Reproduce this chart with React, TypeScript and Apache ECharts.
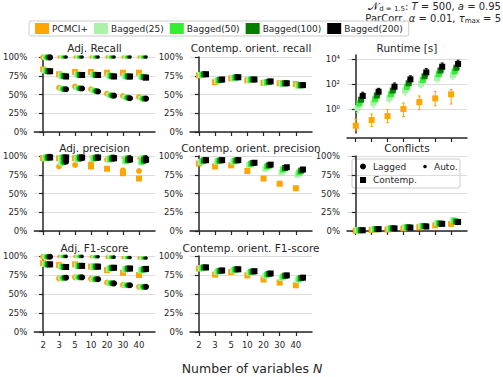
import React, { useEffect, useRef } from 'react';
import * as echarts from 'echarts';

// ---------- data ----------
const nLabels = ['2', '3', '5', '10', '20', '30', '40'];
const methods = ['PCMCI+', 'Bagged(25)', 'Bagged(50)', 'Bagged(100)', 'Bagged(200)'];
const colors = ['#ffa500', '#aaf2aa', '#33ee33', '#007f00', '#000000'];
const offsets = [0, 0.11, 0.22, 0.33, 0.44];
const runtimeTicks = [1, 100, 10000];

// Adj. Recall
const adjRecallLagged = [
  [99.5, 59, 60.5, 57, 51, 48, 46.5],
  [99.5, 58, 59, 55.5, 49.5, 46.5, 45],
  [99.5, 57.5, 58.5, 55, 49, 46, 44.5],
  [99.5, 57, 58, 54.5, 48.5, 45.5, 44.5],
  [99.5, 57, 58, 54, 48.5, 45, 44.5],
];
const adjRecallAuto = [
  [100, 100, 100, 100, 100, 100, 100],
  [100, 100, 100, 100, 100, 100, 100],
  [100, 100, 100, 100, 100, 100, 100],
  [100, 100, 100, 100, 100, 100, 100],
  [100, 100, 100, 100, 100, 100, 100],
];
const adjRecallContemp = [
  [83.5, 77, 80, 80, 79, 79, 79],
  [82, 75.5, 77, 77, 75.5, 75, 74],
  [81.5, 75, 76.5, 76.5, 75, 74.5, 73.5],
  [81, 74.5, 76, 76, 74.5, 74, 73],
  [81, 74, 76, 76, 74, 74, 72.5],
];
// Contemp. orient. recall
const orientRecallContemp = [
  [75.5, 66.5, 71.5, 69, 65.5, 65, 64],
  [76, 68, 72, 69.5, 66, 64.5, 62],
  [76.5, 69, 72.5, 70, 66.5, 64.5, 62],
  [77, 69.5, 73, 70, 67, 65, 62.5],
  [77, 70, 73, 70, 67.5, 65, 62.5],
];
// Runtime [s]
const runtimeMean = [
  [0.046, 0.13, 0.27, 1.0, 3.6, 7, 15],
  [1.2, 3, 7.5, 29, 105, 300, 500],
  [2.7, 6, 15, 58, 210, 600, 1000],
  [5.5, 12, 30, 115, 420, 1200, 2000],
  [11, 24, 60, 235, 850, 2400, 4000],
];
const runtimeLow = [
  [0.02, 0.04, 0.08, 0.25, 0.9, 1.8, 2.5],
  [0.5, 1.3, 3.5, 13, 50, 140, 220],
  [1.2, 3, 7, 28, 100, 280, 450],
  [2.5, 6, 15, 55, 200, 550, 900],
  [5, 12, 30, 110, 400, 1100, 1800],
];
const runtimeHigh = [
  [0.16, 0.4, 0.9, 3, 11, 25, 37],
  [2.6, 6, 15, 58, 210, 600, 1000],
  [5.5, 12, 30, 115, 420, 1200, 2000],
  [11, 24, 60, 230, 850, 2400, 4000],
  [22, 45, 120, 450, 1700, 4800, 8000],
];
// Adj. precision
const adjPrecLagged = [
  [98, 86, 88, 90, 95, 81, 80],
  [98, 90, 95, 96, 95, 93, 91],
  [98.5, 91, 96, 97, 96, 94, 92],
  [99, 92, 96.5, 97.5, 96.5, 94.5, 93.5],
  [99, 92.5, 97, 98, 97, 95, 94.5],
];
const adjPrecAuto = [
  [99, 99, 99, 98.5, 97.5, 97, 96.5],
  [99.5, 99.5, 99.5, 99.5, 99.5, 99, 99],
  [99.5, 99.5, 99.5, 99.5, 99.5, 99, 99],
  [99.5, 99.5, 99.5, 99.5, 99.5, 99, 99],
  [99.5, 99.5, 99.5, 99.5, 99.5, 99, 99],
];
const adjPrecContemp = [
  [97, 97, 97, 86, 83, 77, 70],
  [97, 97, 97, 96, 95, 93, 92],
  [97.5, 97.5, 97.5, 97, 96, 94, 93],
  [98, 98, 98, 97.5, 96.5, 95, 94.5],
  [98, 98, 98, 98, 97, 95.5, 95],
];
// Contemp. orient. precision
const orientPrecContemp = [
  [90, 86, 87.5, 80, 70, 63, 57],
  [92, 92.5, 92.5, 88, 83, 78, 75],
  [93, 93.5, 93.5, 89.5, 86, 82, 78],
  [94, 94, 94, 90.5, 87.5, 84, 80.5],
  [94.5, 94.5, 94.5, 91, 88.5, 85, 82],
];
// Conflicts
const conflictsContemp = [
  [0.5, 1.5, 2, 3.5, 5, 7.5, 9.5],
  [1, 2.5, 3.5, 5, 6.5, 10.5, 14.5],
  [1, 2.5, 3.5, 5, 6.5, 10, 13.5],
  [1, 2.5, 3.5, 5, 6.5, 10, 12.5],
  [1, 2.5, 3.5, 4.5, 6, 9.5, 12],
];
// Adj. F1-score
const adjF1Lagged = [
  [99, 70.5, 72, 70, 65, 62, 59.5],
  [99, 71, 72, 69.5, 64.5, 61.5, 59.5],
  [99, 71, 72, 69.5, 64.5, 61.5, 59.5],
  [99, 71.5, 72, 69.5, 64, 61.5, 59.5],
  [99, 71.5, 72, 69.5, 64, 61.5, 59.5],
];
const adjF1Auto = [
  [99.5, 99.5, 99.5, 99, 98.5, 98, 97.5],
  [99.5, 99.5, 99.5, 99, 98.5, 98, 97.5],
  [99.5, 99.5, 99.5, 99, 98.5, 98, 97.5],
  [99.5, 99.5, 99.5, 99, 98.5, 98, 97.5],
  [99.5, 99.5, 99.5, 99, 98.5, 98, 97.5],
];
const adjF1Contemp = [
  [90.5, 88, 89, 86, 81.5, 78, 75],
  [89.5, 86.5, 87.5, 86, 83, 82, 81],
  [89, 86, 87, 86, 84, 83, 82],
  [89, 85.5, 87, 86, 84.5, 83.5, 82.5],
  [89, 85.5, 87, 86, 84.5, 83.5, 83],
];
// Contemp. orient. F1-score
const orientF1Contemp = [
  [83.5, 75.5, 79, 74.5, 69, 65, 61.5],
  [84, 79, 81, 78, 74, 71, 68],
  [84.5, 80, 82, 79, 75.5, 73, 70],
  [85, 80.5, 82.5, 79.5, 76.5, 74, 71],
  [85, 81, 82.5, 80, 77, 74.5, 71.5],
];

// ---------- layout ----------
const FONT = 'DejaVu Sans';
const TXT = '#262626';
const colLeft = [34, 190, 347];
const colWidth = [121, 122, 120];
const rowTop = [57, 156, 256];
const rowHeight = [75, 75, 76];
const titleY = [48, 148, 248];

type Layer = { rows: number[][]; symbol: string; size: number };
type Panel = { title: string; row: number; col: number; layers: Layer[]; log?: boolean; xLabels?: boolean };

const SQ = 'rect';
const panels: Panel[] = [
  {
    title: 'Adj. Recall', row: 0, col: 0,
    layers: [
      { rows: adjRecallLagged, symbol: 'circle', size: 6 },
      { rows: adjRecallContemp, symbol: SQ, size: 6 },
      { rows: adjRecallAuto, symbol: 'circle', size: 3.5 },
    ],
  },
  { title: 'Contemp. orient. recall', row: 0, col: 1, layers: [{ rows: orientRecallContemp, symbol: SQ, size: 6 }] },
  { title: 'Runtime [s]', row: 0, col: 2, log: true, layers: [{ rows: runtimeMean, symbol: SQ, size: 6 }] },
  {
    title: 'Adj. precision', row: 1, col: 0,
    layers: [
      { rows: adjPrecLagged, symbol: 'circle', size: 6 },
      { rows: adjPrecContemp, symbol: SQ, size: 6 },
      { rows: adjPrecAuto, symbol: 'circle', size: 3.5 },
    ],
  },
  { title: 'Contemp. orient. precision', row: 1, col: 1, layers: [{ rows: orientPrecContemp, symbol: SQ, size: 6 }] },
  { title: 'Conflicts', row: 1, col: 2, layers: [{ rows: conflictsContemp, symbol: SQ, size: 6 }] },
  {
    title: 'Adj. F1-score', row: 2, col: 0, xLabels: true,
    layers: [
      { rows: adjF1Lagged, symbol: 'circle', size: 6 },
      { rows: adjF1Contemp, symbol: SQ, size: 6 },
      { rows: adjF1Auto, symbol: 'circle', size: 3.5 },
    ],
  },
  { title: 'Contemp. orient. F1-score', row: 2, col: 1, xLabels: true, layers: [{ rows: orientF1Contemp, symbol: SQ, size: 6 }] },
];

function buildOption() {
  const grid: any[] = [];
  const xAxis: any[] = [];
  const yAxis: any[] = [];
  const series: any[] = [];
  const graphic: any[] = [];
  const xTickVals = nLabels.map((_, i) => i);

  panels.forEach((p, gi) => {
    const top = p.log ? 55 : rowTop[p.row];
    const height = p.log ? 78 : rowHeight[p.row];
    grid.push({ left: colLeft[p.col], top, width: colWidth[p.col], height });
    xAxis.push({
      type: 'value', gridIndex: gi, min: -0.55, max: 7, offset: 5,
      axisLine: { show: true, lineStyle: { color: TXT, width: 1.5 } },
      axisTick: { show: true, customValues: xTickVals, length: 4, lineStyle: { color: TXT, width: 1.2 } },
      axisLabel: {
        show: !!p.xLabels, customValues: xTickVals, margin: 3,
        formatter: (v: number) => nLabels[Math.round(v)] ?? '',
        fontFamily: FONT, fontSize: 8.5, color: TXT,
      },
      splitLine: { show: false },
    });
    if (p.log) {
      yAxis.push({
        type: 'log', logBase: 10, gridIndex: gi, min: 0.012, max: 20900, offset: 4,
        axisLine: { show: true, lineStyle: { color: TXT, width: 1.5 } },
        axisTick: { show: true, customValues: runtimeTicks, length: 4, lineStyle: { color: TXT, width: 1.2 } },
        axisLabel: {
          customValues: runtimeTicks, margin: 3, fontFamily: FONT, fontSize: 8.5, color: TXT,
          formatter: (v: number) => {
            const e = Math.round(Math.log10(v));
            return e === 0 ? '10⁰' : e === 2 ? '10²' : e === 4 ? '10⁴' : '';
          },
        },
        splitLine: { show: true, lineStyle: { color: '#dddddd', width: 1 } },
        minorTick: { show: false },
      });
    } else {
      yAxis.push({
        type: 'value', gridIndex: gi, min: 0, max: 100, interval: 25, offset: 4,
        axisLine: { show: true, lineStyle: { color: TXT, width: 1.5 } },
        axisTick: { show: true, length: 4, lineStyle: { color: TXT, width: 1.2 } },
        axisLabel: { formatter: '{value}%', margin: 3, fontFamily: FONT, fontSize: 8.5, color: TXT },
        splitLine: { show: true, lineStyle: { color: '#dddddd', width: 1 } },
      });
    }

    graphic.push({
      type: 'text', x: colLeft[p.col] + colWidth[p.col] / 2, y: titleY[p.row], silent: true,
      style: { text: p.title, fill: TXT, font: `10.5px "${FONT}"`, align: 'center', verticalAlign: 'middle' },
    });

    for (let m = 0; m < methods.length; m++) {
      if (p.log) {
        series.push({
          type: 'custom', name: methods[m], xAxisIndex: gi, yAxisIndex: gi, silent: true, clip: false,
          itemStyle: { color: colors[m], opacity: 1 },
          encode: { x: 0, y: [1, 2] },
          data: runtimeMean[m].map((_, i) => [i + offsets[m], runtimeLow[m][i], runtimeHigh[m][i]]),
          renderItem: (_params: any, api: any) => {
            const x = api.value(0);
            const a = api.coord([x, api.value(1)]);
            const b = api.coord([x, api.value(2)]);
            const st = { stroke: colors[m], lineWidth: 1 };
            return {
              type: 'group',
              children: [
                { type: 'line', shape: { x1: a[0], y1: a[1], x2: b[0], y2: b[1] }, style: st },
                { type: 'line', shape: { x1: a[0] - 1.5, y1: a[1], x2: a[0] + 1.5, y2: a[1] }, style: st },
                { type: 'line', shape: { x1: b[0] - 1.5, y1: b[1], x2: b[0] + 1.5, y2: b[1] }, style: st },
              ],
            };
          },
        });
      }
      p.layers.forEach((layer) => {
        series.push({
          type: 'scatter', name: methods[m], xAxisIndex: gi, yAxisIndex: gi,
          symbol: layer.symbol, symbolSize: layer.size, clip: false, silent: true,
          itemStyle: { color: colors[m], opacity: 1 },
          emphasis: { disabled: true },
          data: layer.rows[m].map((v, i) => [i + offsets[m], v]),
        });
      });
    }
  });

  graphic.push({
    type: 'text', x: 252, y: 368, silent: true,
    style: {
      text: 'Number of variables {i|N}', fill: TXT, font: `12.5px "${FONT}"`, align: 'center', verticalAlign: 'middle',
      rich: { i: { fontStyle: 'italic', fontFamily: FONT, fontSize: 12.5, fill: TXT } },
    },
  });
  const mainTok = { fontSize: 10, fill: TXT, fontFamily: FONT, lineHeight: 13 };
  const subTok = { fontSize: 7, fill: TXT, fontFamily: FONT, lineHeight: 7, verticalAlign: 'bottom' };
  const itTok = { fontStyle: 'italic', fontSize: 10, fill: TXT, fontFamily: FONT, lineHeight: 13 };
  graphic.push({
    type: 'text', x: 501, y: 6, silent: true,
    style: {
      text: '{n|𝒩}{s|d = 1.5}{t|: }{i|T}{t| = 500, }{i|a}{t| = 0.95}', fill: TXT, font: `10px "${FONT}"`,
      align: 'right', verticalAlign: 'middle',
      rich: { n: { ...mainTok, fontSize: 10.5 }, s: subTok, i: itTok, t: mainTok },
    },
  });
  graphic.push({
    type: 'text', x: 501, y: 18, silent: true,
    style: {
      text: '{t|ParCorr, }{i|α}{t| = 0.01, }{i|τ}{s|max}{t| = 5}', fill: TXT, font: `10px "${FONT}"`,
      align: 'right', verticalAlign: 'middle',
      rich: { s: subTok, i: itTok, t: mainTok },
    },
  });
  graphic.push({
    type: 'group', silent: true,
    children: [
      { type: 'rect', shape: { x: 352, y: 159, width: 108, height: 29, r: 2 }, style: { fill: 'rgba(255,255,255,0.8)', stroke: '#cccccc', lineWidth: 1 } },
      { type: 'circle', shape: { cx: 363, cy: 166.5, r: 3 }, style: { fill: '#000' } },
      { type: 'text', x: 373, y: 166.5, style: { text: 'Lagged', fill: TXT, font: `9px "${FONT}"`, verticalAlign: 'middle' } },
      { type: 'circle', shape: { cx: 425, cy: 166.5, r: 1.8 }, style: { fill: '#000' } },
      { type: 'text', x: 434, y: 166.5, style: { text: 'Auto.', fill: TXT, font: `9px "${FONT}"`, verticalAlign: 'middle' } },
      { type: 'rect', shape: { x: 360, y: 177, width: 6, height: 6 }, style: { fill: '#000' } },
      { type: 'text', x: 373, y: 180, style: { text: 'Contemp.', fill: TXT, font: `9px "${FONT}"`, verticalAlign: 'middle' } },
    ],
  });

  return {
    animation: false,
    backgroundColor: '#ffffff',
    textStyle: { fontFamily: FONT },
    legend: {
      left: 29, top: 21, orient: 'horizontal', icon: 'rect', itemWidth: 14, itemHeight: 11, itemGap: 6,
      padding: [2, 6, 2, 6], borderColor: '#cccccc', borderWidth: 1, borderRadius: 2,
      backgroundColor: 'rgba(255,255,255,0.8)', selectedMode: false,
      itemStyle: { opacity: 1 },
      textStyle: { fontFamily: FONT, fontSize: 9, color: TXT, padding: [0, 0, 0, -2] },
      data: methods.map((name, m) => ({ name, itemStyle: { color: colors[m], opacity: 1 } })),
    },
    grid,
    xAxis,
    yAxis,
    series,
    graphic,
  };
}

export default function App() {
  const ref = useRef<HTMLDivElement>(null);
  useEffect(() => {
    if (!ref.current) return;
    const chart = echarts.init(ref.current, null, { renderer: 'svg' });
    chart.setOption(buildOption() as any);
    return () => chart.dispose();
  }, []);
  return <div ref={ref} style={{ position: 'fixed', left: 0, top: 0, width: 503, height: 377, background: '#fff' }} />;
}
